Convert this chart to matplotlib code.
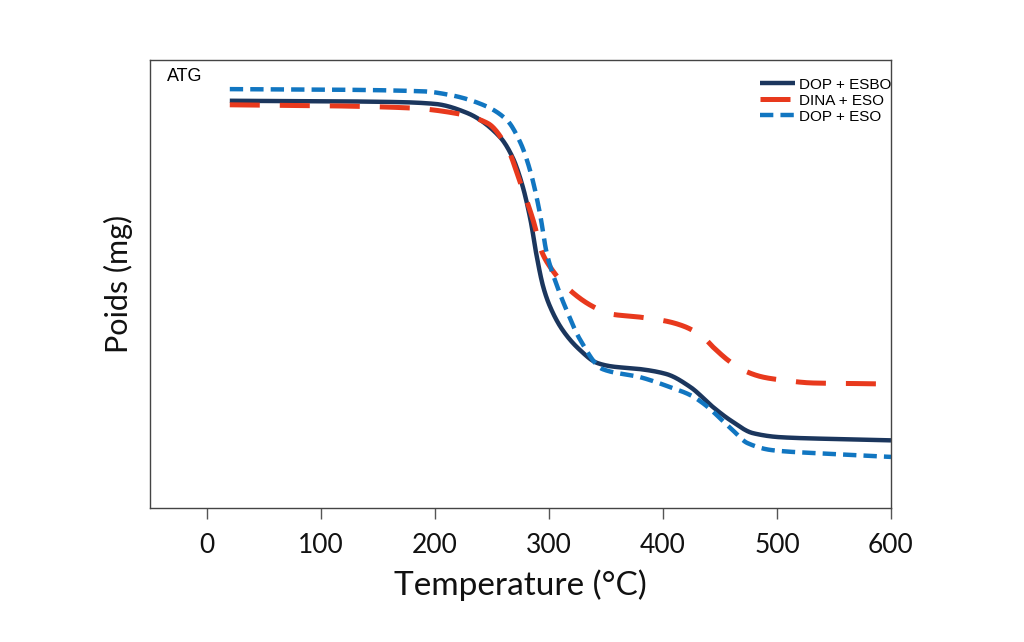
import matplotlib
matplotlib.use("Agg")
import matplotlib.pyplot as plt
import numpy as np

plt.rcParams['font.family'] = ['Lato', 'DejaVu Sans']

# Data (y in arbitrary mass units, 0-100 over the axes height)
temp_esbo = [20, 100, 169, 200, 228, 257, 268, 277, 284, 289, 295, 301, 312, 327, 342, 355, 380, 403, 424, 444, 459, 479, 503, 550, 600]
dop_esbo = [90.9, 90.8, 90.6, 90.2, 88.2, 82.8, 78.3, 71.7, 64.0, 56.5, 49.3, 44.9, 39.7, 35.3, 32.4, 31.6, 31.0, 29.9, 27.0, 22.5, 19.6, 16.7, 15.8, 15.4, 15.1]

temp_dina = [20, 100, 178, 216, 246, 263, 275, 286, 294, 301, 318, 339, 354, 380, 403, 418, 435, 444, 459, 470, 488, 503, 532, 590, 600]
dina_eso = [90.0, 89.8, 89.3, 88.2, 85.9, 80.6, 72.5, 64.3, 57.0, 53.8, 48.7, 44.9, 43.3, 42.6, 41.7, 40.6, 38.2, 35.9, 32.6, 30.8, 29.2, 28.6, 27.9, 27.7, 27.6]

temp_eso = [20, 100, 190, 213, 242, 263, 275, 284, 292, 298, 307, 316, 327, 347, 380, 406, 424, 435, 461, 474, 496, 546, 600]
dop_eso = [93.5, 93.4, 93.0, 92.2, 90.0, 86.6, 81.5, 74.8, 65.8, 56.9, 49.6, 43.8, 37.7, 31.0, 29.2, 27.0, 25.2, 23.4, 17.4, 14.5, 12.9, 12.1, 11.4]

x_ticks = [0, 100, 200, 300, 400, 500, 600]


def smooth(x, y, n=800):
    x = np.asarray(x, float)
    y = np.asarray(y, float)
    xs = np.linspace(x[0], x[-1], n)
    h = np.diff(x)
    d = np.diff(y) / h
    m = np.zeros_like(y)
    for k in range(1, len(x) - 1):
        if d[k-1] * d[k] > 0:
            w1 = 2*h[k] + h[k-1]
            w2 = h[k] + 2*h[k-1]
            m[k] = (w1 + w2) / (w1/d[k-1] + w2/d[k])
    m[0] = d[0]
    m[-1] = d[-1]
    idx = np.clip(np.searchsorted(x, xs) - 1, 0, len(x) - 2)
    t = (xs - x[idx]) / h[idx]
    h00 = 2*t**3 - 3*t**2 + 1
    h10 = t**3 - 2*t**2 + t
    h01 = -2*t**3 + 3*t**2
    h11 = t**3 - t**2
    ys = h00*y[idx] + h10*h[idx]*m[idx] + h01*y[idx+1] + h11*h[idx]*m[idx+1]
    return xs, ys


fig = plt.figure(figsize=(10.24, 6.42), dpi=100)
ax = fig.add_axes([150/1024, 1 - 508/642, (891-150)/1024, (508-60)/642])

navy = '#1b365d'
red = '#e8391d'
blue = '#1176c1'

xs, ys = smooth(temp_esbo, dop_esbo)
ax.plot(xs, ys, color=navy, lw=3.2, solid_capstyle='butt', label='DOP + ESBO')
xs, ys = smooth(temp_dina, dina_eso)
ax.plot(xs, ys, color=red, lw=3.6, dashes=(6, 4), label='DINA + ESO')
xs, ys = smooth(temp_eso, dop_eso)
ax.plot(xs, ys, color=blue, lw=3.2, dashes=(3, 1.6), label='DOP + ESO')

ax.set_xlim(-50, 600)
ax.set_ylim(0, 100)
ax.set_xticks(x_ticks)
ax.set_yticks([])
ax.tick_params(axis='x', direction='out', length=8, width=1, color='#555555',
               labelsize=19, pad=10, labelcolor='#111111')
for s in ax.spines.values():
    s.set_color('#444444')
    s.set_linewidth(1.0)

ax.set_xlabel('Temperature (°C)', fontsize=24, labelpad=8, color='#111111')
ax.set_ylabel('Poids (mg)', fontsize=22, labelpad=12, color='#111111')

ax.text(0.023, 0.982, 'ATG', transform=ax.transAxes, fontsize=13,
        va='top', ha='left', family=['Liberation Sans', 'DejaVu Sans'])

leg = ax.legend(loc='upper right', bbox_to_anchor=(1.004, 0.967), frameon=False,
                handlelength=2.3, handletextpad=0.2,
                labelspacing=0.12, borderaxespad=0.0, borderpad=0.2,
                prop={'family': ['Liberation Sans', 'DejaVu Sans'], 'size': 11})

fig.savefig('out.png', dpi=100)
